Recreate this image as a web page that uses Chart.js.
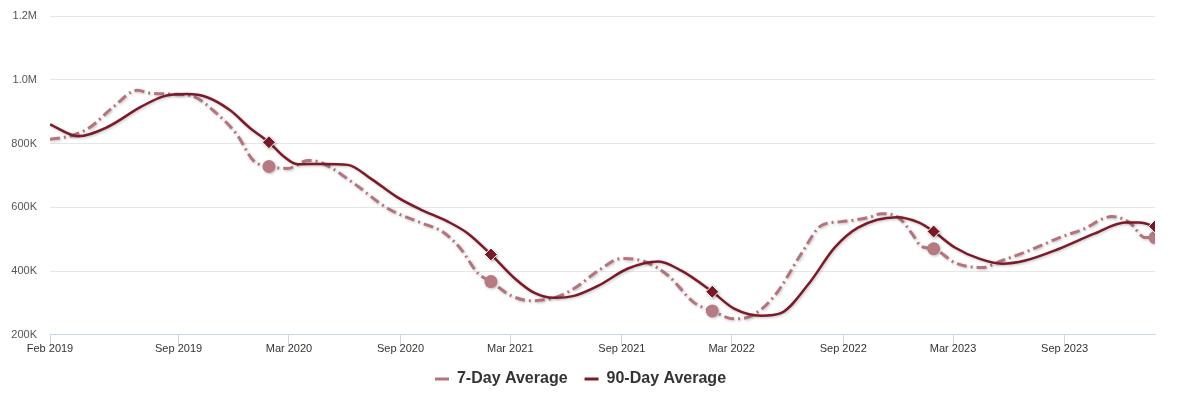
<!DOCTYPE html>
<html>
<head>
<meta charset="utf-8">
<script src="https://cdn.jsdelivr.net/npm/chart.js@4"></script>
<style>
  html, body { margin: 0; padding: 0; background: #fff; }
  #wrap { width: 1188px; height: 402px; }
</style>
</head>
<body>
<div id="wrap"><canvas id="avg-chart"></canvas></div>
<script>
// 7-day average (dates + values)
const sevenDayDates = ['2019-02-01','2019-03-11','2019-04-08','2019-05-16','2019-06-25','2019-07-16','2019-08-23','2019-09-25','2019-10-28','2019-12-07',
  '2020-01-02','2020-01-28','2020-02-28','2020-04-01','2020-04-22','2020-06-16','2020-08-11','2020-10-04','2020-11-11','2020-12-09',
  '2021-01-07','2021-01-28','2021-03-02','2021-04-04','2021-05-12','2021-06-14','2021-07-24','2021-08-31','2021-10-08','2021-11-16','2021-12-29',
  '2022-01-28','2022-03-05','2022-04-03','2022-05-11','2022-06-24','2022-07-27','2022-08-29','2022-10-13','2022-11-03','2022-12-01','2022-12-23',
  '2023-01-08','2023-01-28','2023-03-04','2023-04-18','2023-05-21','2023-07-04','2023-08-28','2023-09-30','2023-11-18','2023-12-17',
  '2024-01-12','2024-01-28'];
const sevenDayValues = [813000,826000,851000,914000,967000,958000,955000,948000,904000,826000,
  747000,728000,722000,747000,741000,675000,596000,552000,521000,470000,
  392000,367000,323000,307000,316000,345000,401000,439000,430000,386000,301000,
  275000,250000,260000,323000,455000,543000,555000,568000,580000,568000,518000,
  477000,470000,426000,411000,433000,464000,508000,530000,571000,552000,
  505000,505000];

// 90-day average
const ninetyDayDates = ['2019-02-01','2019-03-19','2019-05-06','2019-06-30','2019-08-07','2019-09-15','2019-10-18','2019-11-25','2019-12-28',
  '2020-01-28','2020-02-21','2020-03-15','2020-04-25','2020-06-06','2020-07-14','2020-08-27','2020-10-04','2020-11-18','2020-12-21',
  '2021-01-28','2021-03-07','2021-04-09','2021-05-12','2021-06-14','2021-07-24','2021-09-11','2021-10-31','2021-12-08',
  '2022-01-28','2022-03-05','2022-04-19','2022-05-22','2022-07-06','2022-08-18','2022-09-26','2022-11-28',
  '2023-01-04','2023-01-28','2023-03-04','2023-04-13','2023-05-21','2023-06-28','2023-08-23','2023-10-21','2023-12-10',
  '2024-01-02','2024-01-28'];
const ninetyDayValues = [860000,823000,851000,914000,948000,955000,945000,904000,848000,
  804000,760000,735000,736000,733000,690000,631000,593000,555000,518000,
  452000,379000,332000,316000,322000,354000,408000,430000,401000,
  335000,282000,260000,269000,360000,474000,537000,569000,
  552000,524000,474000,439000,423000,433000,470000,518000,552000,
  552000,540000];

const markerDates = ['2020-01-28','2021-01-28','2022-01-28','2023-01-28','2024-01-28'];

const tickDates = ['2019-02-01','2019-09-01','2020-03-01','2020-09-01','2021-03-01','2021-09-01','2022-03-01','2022-09-01','2023-03-01','2023-09-01'];
const tickLabels = ['Feb 2019','Sep 2019','Mar 2020','Sep 2020','Mar 2021','Sep 2021','Mar 2022','Sep 2022','Mar 2023','Sep 2023'];

const startDate = '2019-02-01';
const endDate = '2024-01-28';

function dayIndex(d){
    return Math.round((Date.parse(d) - Date.parse(startDate)) / 86400000);
}

function toPoints(dates, values){
    let pts = [];
    for(let i=0; i < dates.length; i++)
        pts.push({x: dayIndex(dates[i]), y: values[i]});
    return pts;
}

function markerSizes(dates, size){
    return dates.map(d => markerDates.includes(d) ? size : 0);
}

const lineShadow = {
    id: 'lineShadow',
    beforeDatasetDraw(chart){
        const ctx = chart.ctx;
        ctx.save();
        ctx.shadowColor = 'rgba(0,0,0,0.25)';
        ctx.shadowBlur = 3;
        ctx.shadowOffsetX = 1;
        ctx.shadowOffsetY = 1;
    },
    afterDatasetDraw(chart){
        chart.ctx.restore();
    }
};

const fontFamily = "'Liberation Sans', Arial, sans-serif";
const tickValues = tickDates.map(dayIndex);

const ctx = document.getElementById('avg-chart');
new Chart(ctx, {
    type: 'line',
    data: {
        datasets: [
            {
                label: '90-Day Average',
                data: toPoints(ninetyDayDates, ninetyDayValues),
                borderColor: '#7b1a28',
                backgroundColor: '#7b1a28',
                borderWidth: 2.5,
                cubicInterpolationMode: 'monotone',
                pointStyle: 'rectRot',
                pointRadius: markerSizes(ninetyDayDates, 6.5),
                pointHoverRadius: 0,
                pointBackgroundColor: '#7b1a28',
                pointBorderColor: '#ffffff',
                pointBorderWidth: 1
            },
            {
                label: '7-Day Average',
                data: toPoints(sevenDayDates, sevenDayValues),
                borderColor: '#b3747c',
                backgroundColor: '#b3747c',
                borderWidth: 3,
                borderDash: [10, 4, 2, 4],
                cubicInterpolationMode: 'monotone',
                pointStyle: 'circle',
                pointRadius: markerSizes(sevenDayDates, 6.5),
                pointHoverRadius: 0,
                pointBackgroundColor: '#b67a82',
                pointBorderWidth: 0
            }
        ]
    },
    options: {
        responsive: true,
        maintainAspectRatio: false,
        animation: false,
        layout: { padding: { top: 16, right: 33, left: 6, bottom: 5 } },
        plugins: {
            tooltip: { enabled: false },
            legend: {
                position: 'bottom',
                reverse: true,
                labels: {
                    usePointStyle: true,
                    pointStyle: 'line',
                    pointStyleWidth: 14,
                    padding: 17,
                    color: '#333333',
                    font: { family: fontFamily, size: 16, weight: 'bold' },
                    generateLabels(chart){
                        const items = Chart.defaults.plugins.legend.labels.generateLabels(chart);
                        items.forEach(it => {
                            const ds = chart.data.datasets[it.datasetIndex];
                            it.lineDash = [];
                            it.pointStyle = 'line';
                            it.lineWidth = 3;
                            it.strokeStyle = ds.borderColor;
                            it.fillStyle = ds.borderColor;
                        });
                        return items;
                    }
                }
            }
        },
        scales: {
            x: {
                type: 'linear',
                min: 0,
                max: dayIndex(endDate),
                afterBuildTicks(scale){
                    scale.ticks = tickValues.map(v => ({value: v}));
                },
                ticks: {
                    autoSkip: false,
                    maxRotation: 0,
                    padding: -2,
                    color: '#333333',
                    font: { family: fontFamily, size: 11 },
                    callback: (value) => {
                        const i = tickValues.indexOf(value);
                        return i >= 0 ? tickLabels[i] : '';
                    }
                },
                grid: {
                    drawOnChartArea: false,
                    drawTicks: true,
                    tickLength: 10,
                    color: '#ccd6eb'
                },
                border: { color: '#ccd6eb', width: 1 }
            },
            y: {
                min: 200000,
                max: 1200000,
                afterFit(scale){
                    scale.width = 44;
                    scale.paddingTop = 0;
                    scale.paddingBottom = 0;
                },
                ticks: {
                    stepSize: 200000,
                    padding: 13,
                    color: '#555555',
                    font: { family: fontFamily, size: 11 },
                    callback: (v) => v >= 1000000 ? (v / 1000000).toFixed(1) + 'M' : (v / 1000) + 'K'
                },
                grid: { color: '#e6e6e6', drawTicks: false },
                border: { display: false }
            }
        }
    },
    plugins: [lineShadow]
});
</script>
</body>
</html>
